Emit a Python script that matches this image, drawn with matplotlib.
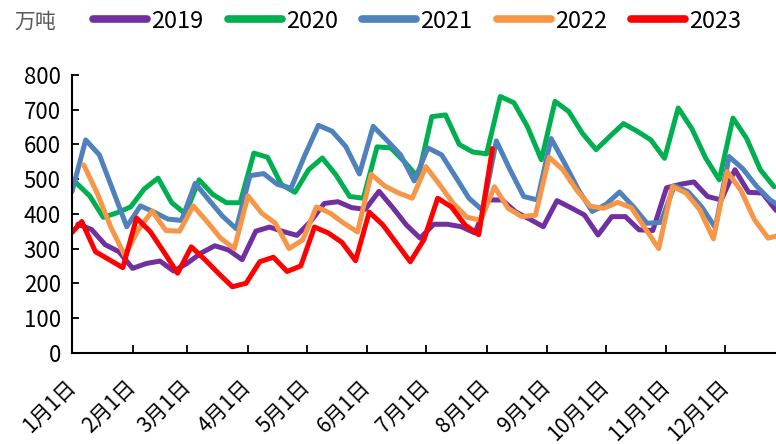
import matplotlib
matplotlib.use("Agg")
import matplotlib.pyplot as plt
import numpy as np

plt.rcParams['font.family'] = ['Noto Sans CJK SC', 'DejaVu Sans']

# ---- data (weekly, Fridays; x = day of year) ----
days_2019 = [3 + 7 * i for i in range(52)]
v_2019 = [370, 355, 311, 291, 243, 257, 264, 235, 258, 287, 308, 296, 268, 350, 362, 349,
          338, 378, 430, 435, 418, 413, 465, 418, 368, 330, 370, 370, 363, 345, 440, 440,
          405, 385, 363, 438, 418, 397, 339, 392, 392, 354, 352, 475, 485, 492, 450, 440,
          527, 462, 460, 410]

days_2020 = [2 + 7 * i for i in range(52)]
v_2020 = [490, 452, 390, 403, 420, 472, 503, 432, 400, 498, 456, 432, 432, 575, 563, 485,
          462, 527, 561, 512, 450, 445, 593, 590, 550, 505, 680, 685, 600, 578, 573, 738,
          720, 650, 556, 724, 695, 632, 585, 623, 660, 638, 613, 560, 705, 645, 561, 498,
          676, 617, 527, 478]

days_2021 = [7 * i for i in range(53)]
v_2021 = [464, 613, 570, 467, 363, 423, 405, 385, 381, 488, 440, 393, 357, 510, 516, 485,
          474, 568, 655, 638, 594, 515, 652, 612, 570, 495, 590, 570, 508, 445, 410, 610,
          527, 450, 440, 617, 545, 469, 407, 427, 463, 421, 373, 375, 481, 464, 420, 360,
          565, 530, 480, 440, 415]

days_2022 = [6 + 7 * i for i in range(52)]
v_2022 = [541, 458, 360, 280, 355, 408, 352, 350, 423, 378, 330, 300, 452, 402, 373, 300,
          325, 420, 402, 373, 348, 514, 480, 460, 445, 536, 484, 430, 390, 382, 478, 416,
          392, 396, 563, 527, 469, 422, 416, 433, 418, 359, 300, 479, 460, 412, 328, 522,
          468, 383, 330, 340]

days_2023 = [0] + [5 + 7 * i for i in range(31)]
v_2023 = [346, 378, 291, 268, 245, 388, 349, 290, 229, 305, 268, 228, 190, 200, 262, 275,
          234, 250, 362, 345, 318, 265, 405, 368, 315, 262, 326, 445, 420, 368, 340, 588]

series_names = ['2019', '2020', '2021', '2022', '2023']
colors = ['#7030A0', '#00B050', '#4F81BD', '#F79646', '#FF0000']

tick_days = [0, 31, 59, 90, 120, 151, 181, 212, 243, 273, 304, 334]
tick_labels = ['1月1日', '2月1日', '3月1日', '4月1日', '5月1日', '6月1日',
               '7月1日', '8月1日', '9月1日', '10月1日', '11月1日', '12月1日']
unit_label = '万吨'

# ---- figure ----
fig = plt.figure(figsize=(7.76, 4.44), dpi=100)
ax = fig.add_axes([72 / 776, 1 - 352.7 / 444, 1 - 72 / 776, (352.7 - 75) / 444])

xs = [days_2019, days_2020, days_2021, days_2022, days_2023]
ys = [v_2019, v_2020, v_2021, v_2022, v_2023]
lines = []
for x, y, c, n in zip(xs, ys, colors, series_names):
    ln, = ax.plot(x, y, color=c, lw=3.6, label=n, solid_joinstyle='round',
                  solid_capstyle='round', clip_on=True)
    lines.append(ln)

ax.set_xlim(0, 360)
ax.set_ylim(0, 800)
ax.set_yticks(range(0, 801, 100))
ax.set_xticks(tick_days)
ax.set_xticklabels(tick_labels, rotation=45, ha='right', va='center',
                   rotation_mode='anchor')

for s in ['top', 'right']:
    ax.spines[s].set_visible(False)
for s in ['left', 'bottom']:
    ax.spines[s].set_linewidth(1.5)
    ax.spines[s].set_color('black')

ax.tick_params(axis='y', direction='in', length=5, width=1.3, labelsize=16, pad=8)
ax.tick_params(axis='x', direction='in', length=6, width=1.3, labelsize=15, pad=22)

leg = fig.legend(handles=lines, labels=series_names, loc='center left',
                 bbox_to_anchor=(93 / 776, 1 - 21 / 444), ncol=5, frameon=False,
                 fontsize=17, handlelength=2.3, handletextpad=0.17,
                 columnspacing=1.02, borderaxespad=0, borderpad=0)
for h in leg.legend_handles:
    h.set_linewidth(5.5)
    h.set_solid_capstyle('round')

fig.text(14 / 776, 1 - 22 / 444, unit_label, fontsize=15, color='#595959',
         va='center', ha='left')

fig.savefig('out.png', dpi=100)
